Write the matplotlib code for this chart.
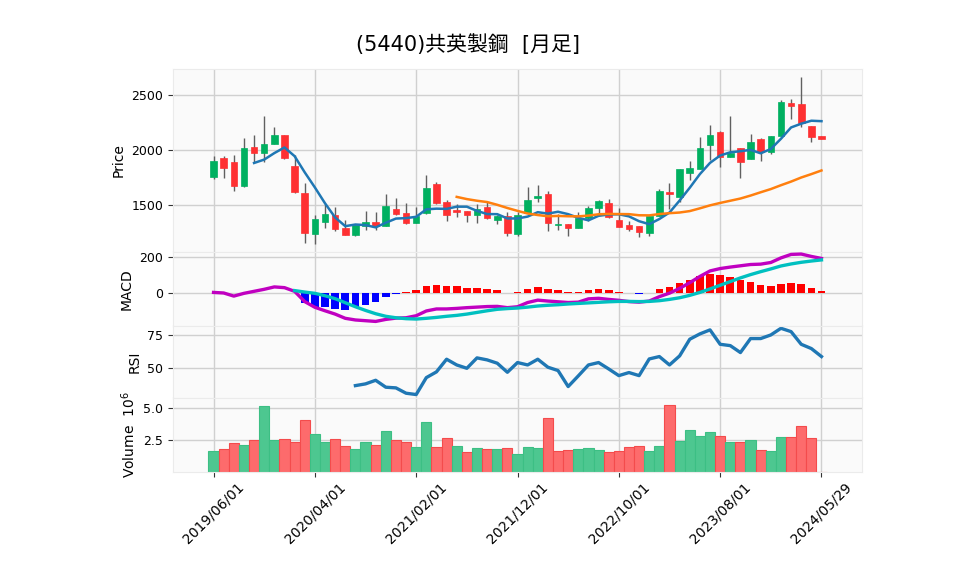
import numpy as np
import matplotlib
matplotlib.use("Agg")
import matplotlib.pyplot as plt
from matplotlib.ticker import FuncFormatter, FixedLocator

plt.rcParams['font.family'] = ['DejaVu Sans', 'Noto Sans CJK JP']

# --- monthly OHLC ---
opens = [1757, 1924, 1891, 1673, 2027, 1976, 2052, 2136, 1855, 1609,
         1234, 1343, 1409, 1288, 1227, 1312, 1345, 1309, 1461, 1424,
         1339, 1424, 1691, 1524, 1455, 1445, 1406, 1482, 1367, 1403,
         1239, 1430, 1567, 1600, 1318, 1324, 1294, 1379, 1476, 1518,
         1364, 1315, 1309, 1248, 1400, 1621, 1576, 1794, 1824, 2045,
         2167, 1933, 2015, 1918, 2097, 1985, 2130, 2424, 2418, 2218,
         2127]
highs = [1948, 1945, 1955, 2106, 2133, 2309, 2206, 2136, 1955, 1697,
         1409, 1506, 1479, 1364, 1318, 1442, 1436, 1597, 1561, 1515,
         1485, 1773, 1709, 1545, 1506, 1450, 1506, 1530, 1409, 1433,
         1433, 1661, 1685, 1630, 1418, 1324, 1433, 1494, 1545, 1552,
         1470, 1357, 1309, 1400, 1648, 1703, 1827, 1900, 2115, 2224,
         2176, 2309, 2015, 2142, 2112, 2127, 2455, 2461, 2667, 2218,
         2127]
lows = [1734, 1742, 1624, 1667, 1894, 1888, 2052, 1915, 1612, 1152,
        1143, 1288, 1264, 1227, 1218, 1273, 1276, 1309, 1409, 1330,
        1339, 1418, 1512, 1357, 1394, 1345, 1336, 1375, 1327, 1215,
        1218, 1430, 1530, 1267, 1273, 1218, 1294, 1352, 1421, 1380,
        1297, 1264, 1206, 1218, 1400, 1467, 1530, 1724, 1824, 1909,
        1848, 1933, 1742, 1918, 1903, 1964, 2130, 2279, 2212, 2070,
        2103]
closes = [1900, 1839, 1676, 2018, 1976, 2055, 2136, 1930, 1621, 1243,
          1370, 1418, 1282, 1227, 1318, 1345, 1312, 1491, 1418, 1339,
          1403, 1655, 1521, 1406, 1439, 1406, 1461, 1379, 1400, 1243,
          1406, 1545, 1582, 1333, 1330, 1294, 1379, 1470, 1536, 1390,
          1303, 1285, 1252, 1400, 1627, 1597, 1827, 1836, 2018, 2136,
          1933, 1970, 1888, 2076, 1985, 2127, 2433, 2403, 2248, 2121,
          2103]
volumes = [1.61, 1.77, 2.24, 2.08, 2.47, 5.13, 2.47, 2.60, 2.32, 4.01,
           2.94, 2.32, 2.60, 2.00, 1.77, 2.32, 2.14, 3.18, 2.47, 2.32,
           1.93, 3.88, 1.93, 2.68, 2.00, 1.54, 1.85, 1.77, 1.77, 1.85,
           1.38, 1.93, 1.85, 4.19, 1.61, 1.69, 1.77, 1.85, 1.69, 1.54,
           1.61, 1.93, 2.00, 1.61, 2.00, 5.21, 2.40, 3.26, 2.79, 3.10,
           2.79, 2.32, 2.32, 2.47, 1.69, 1.61, 2.71, 2.71, 3.57, 2.63,
           0.05]
volumes = [v * 1e6 for v in volumes]

# moving averages (5 and 25 months)
ma5 = [1882, 1913, 1972, 2023, 1944, 1797, 1660, 1516, 1387, 1308,
       1323, 1318, 1297, 1339, 1377, 1381, 1393, 1461, 1467, 1465,
       1485, 1485, 1447, 1418, 1417, 1378, 1378, 1395, 1435, 1422,
       1439, 1417, 1384, 1361, 1402, 1414, 1416, 1397, 1353, 1326,
       1373, 1432, 1541, 1657, 1781, 1883, 1950, 1979, 1989, 2001,
       1970, 2009, 2102, 2205, 2239, 2266, 2262]
ma25 = [1574, 1554, 1539, 1527, 1502, 1473, 1447, 1423, 1409, 1398,
        1401, 1398, 1397, 1404, 1416, 1419, 1418, 1417, 1407, 1406,
        1418, 1426, 1432, 1445, 1470, 1497, 1519, 1539, 1559, 1586,
        1616, 1645, 1680, 1713, 1750, 1781, 1814]

# MACD panel
macd = [5, 2, -15, 0, 11, 22, 35, 31, 11, -45,
        -76, -95, -113, -136, -145, -149, -153, -142, -135, -133,
        -122, -96, -85, -85, -82, -78, -75, -72, -71, -78,
        -73, -50, -37, -42, -46, -50, -48, -30, -27, -33,
        -38, -45, -48, -42, -18, 1, 27, 58, 92, 122,
        135, 143, 150, 157, 159, 168, 193, 212, 214, 201,
        190]
signal = [15, 7, 0, -13, -29, -51, -73, -93, -111, -125,
          -133, -138, -140, -136, -131, -125, -120, -113, -104, -95,
          -87, -83, -80, -75, -69, -65, -62, -58, -55, -52,
          -49, -46, -44, -44, -45, -44, -40, -33, -24, -11,
          5, 24, 44, 64, 84, 102, 118, 133, 149, 160,
          169, 176, 182]
hist = [0, -55, -76, -76, -85, -91, -76, -64, -45, -18,
        -4, 5, 18, 40, 45, 40, 40, 29, 27, 24,
        16, 0, 5, 22, 35, 24, 18, 7, 7, 18,
        24, 18, 7, 0, -2, 0, 24, 35, 56, 73,
        95, 107, 100, 89, 73, 62, 45, 40, 51, 56,
        51, 29, 13]

# RSI (14)
rsi = [37, 38.3, 41, 35.8, 35.3, 31.3, 30.3, 43, 47.3, 56.8,
       52.5, 50, 57.8, 56.3, 53.8, 47, 54.3, 52.5, 56.8, 50.8,
       48.3, 36.3, 44.3, 52.5, 54.3, 49.5, 44.5, 46.8, 44.5, 57,
       58.8, 52.5, 59.3, 71.8, 75.8, 78.8, 68, 67, 61.8, 72.3,
       72.3, 75, 80, 77.5, 68, 64.8, 58.8]

tick_pos = [0, 10, 20, 30, 40, 50, 60]
tick_labels = ["2019/06/01", "2020/04/01", "2021/02/01", "2021/12/01",
               "2022/10/01", "2023/08/01", "2024/05/29"]

UP, DOWN = "#00b060", "#fe3032"
VUP, VDOWN = "#4dc790", "#fd6b6c"
GRID = "#d0d0d0"

x = np.arange(len(closes))

fig = plt.figure(figsize=(9.58, 5.75), dpi=100)
L, W = 0.1806, 0.7192
ax_p = fig.add_axes([L, 0.5617, W, 0.3183])
ax_m = fig.add_axes([L, 0.4330, W, 0.1287], sharex=ax_p)
ax_r = fig.add_axes([L, 0.3078, W, 0.1252], sharex=ax_p)
ax_v = fig.add_axes([L, 0.1791, W, 0.1287], sharex=ax_p)

for ax in (ax_p, ax_m, ax_r, ax_v):
    ax.set_facecolor("#fafafa")
    ax.set_axisbelow(True)
    ax.grid(True, color=GRID, linewidth=1.0)
    for sp in ax.spines.values():
        sp.set_color("#ebebeb")
    ax.tick_params(axis="y", labelsize=9, length=3.5, color="#333333")
    ax.xaxis.set_major_locator(FixedLocator(tick_pos))
    ax.tick_params(axis="x", length=0, labelbottom=False)

# --- candles ---
for i in x:
    o, h, l, c = opens[i], highs[i], lows[i], closes[i]
    col = UP if c >= o else DOWN
    ax_p.vlines(i, l, h, color="#606060", linewidth=1.0, zorder=2)
    ax_p.bar(i, abs(c - o), bottom=min(o, c), width=0.65, color=col,
             edgecolor=col, linewidth=0.5, zorder=3)
ax_p.plot(np.arange(4, 61), ma5, color="#1f77b4", linewidth=1.8, zorder=4)
ax_p.plot(np.arange(24, 61), ma25, color="#ff7f0e", linewidth=1.8, zorder=4)
ax_p.set_ylim(1073, 2736)
ax_p.set_yticks([1500, 2000, 2500])
ax_p.set_ylabel("Price", fontsize=10)

# --- MACD ---
hcols = ["#ff0000" if v >= 0 else "#0000ff" for v in hist]
ax_m.bar(np.arange(8, 61), hist, width=0.75, color=hcols, zorder=2)
ax_m.plot(x, macd, color="#c000c0", linewidth=2.4, zorder=3)
ax_m.plot(np.arange(8, 61), signal, color="#00c0c0", linewidth=2.4, zorder=4)
ax_m.set_ylim(-178, 225)
ax_m.set_yticks([0, 200])
ax_m.set_ylabel("MACD", fontsize=10)

# --- RSI ---
ax_r.plot(np.arange(14, 61), rsi, color="#1f77b4", linewidth=2.4)
ax_r.set_ylim(27.7, 81.7)
ax_r.set_yticks([50, 75])
ax_r.set_ylabel("RSI", fontsize=10)

# --- Volume ---
vcols, vedge = [], []
for i in x:
    up = closes[i] >= (closes[i - 1] if i > 0 else opens[i])
    vcols.append(VUP if up else VDOWN)
    vedge.append("#3cbf84" if up else "#f44b4c")
ax_v.bar(x, volumes, width=1.0, color=vcols, edgecolor=vedge, linewidth=0.8)
ax_v.set_ylim(0.015e6, 5.74e6)
ax_v.set_yticks([2.5e6, 5.0e6])
ax_v.yaxis.set_major_formatter(FuncFormatter(lambda v, _: f"{v / 1e6:.1f}"))
ax_v.set_ylabel("Volume  $10^{6}$", fontsize=10)
ax_v.tick_params(axis="x", length=3.5, pad=2, labelbottom=True, labelsize=10,
                 color="#333333")
ax_v.set_xticklabels(tick_labels, rotation=45, ha="center")

ax_p.set_xlim(-4, 64)

fig.suptitle("(5440)共英製鋼  [月足]", x=0.4886, y=0.94, fontsize=15)

fig.savefig("out.png", dpi=100)
